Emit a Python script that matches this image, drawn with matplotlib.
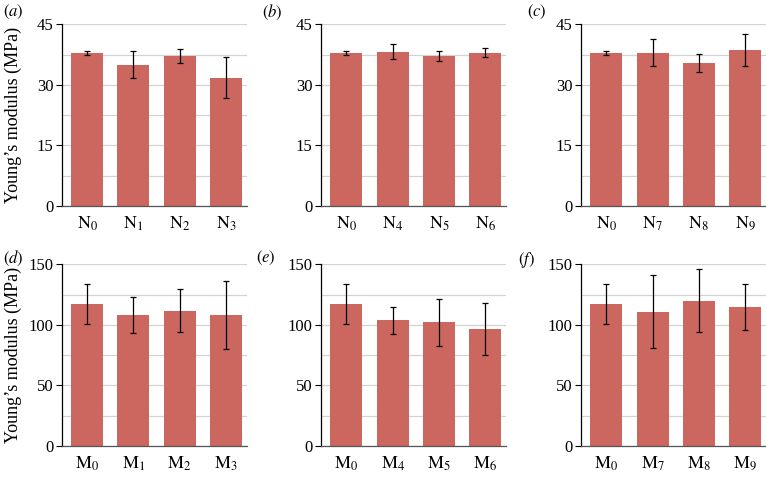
import matplotlib
matplotlib.use("Agg")
import matplotlib.pyplot as plt
from matplotlib.ticker import MultipleLocator

plt.rcParams['font.family'] = ['Liberation Serif', 'DejaVu Serif']
plt.rcParams['mathtext.fontset'] = 'stix'

# ---- data ----
labels_a = [r'$\mathrm{N}_0$', r'$\mathrm{N}_1$', r'$\mathrm{N}_2$', r'$\mathrm{N}_3$']
values_a = [37.9, 35.0, 37.1, 31.8]
errors_a = [0.4, 3.4, 1.8, 5.0]

labels_b = [r'$\mathrm{N}_0$', r'$\mathrm{N}_4$', r'$\mathrm{N}_5$', r'$\mathrm{N}_6$']
values_b = [37.9, 38.2, 37.2, 38.0]
errors_b = [0.4, 1.8, 1.2, 1.2]

labels_c = [r'$\mathrm{N}_0$', r'$\mathrm{N}_7$', r'$\mathrm{N}_8$', r'$\mathrm{N}_9$']
values_c = [37.9, 38.0, 35.5, 38.6]
errors_c = [0.4, 3.3, 2.2, 4.0]

labels_d = [r'$\mathrm{M}_0$', r'$\mathrm{M}_1$', r'$\mathrm{M}_2$', r'$\mathrm{M}_3$']
values_d = [117.5, 107.9, 111.8, 107.9]
errors_d = [16.5, 15.0, 18.0, 28.0]

labels_e = [r'$\mathrm{M}_0$', r'$\mathrm{M}_4$', r'$\mathrm{M}_5$', r'$\mathrm{M}_6$']
values_e = [117.5, 103.8, 102.1, 96.3]
errors_e = [16.5, 11.0, 19.5, 21.5]

labels_f = [r'$\mathrm{M}_0$', r'$\mathrm{M}_7$', r'$\mathrm{M}_8$', r'$\mathrm{M}_9$']
values_f = [117.5, 110.9, 120.0, 114.8]
errors_f = [16.5, 30.0, 26.3, 19.0]

panel_letters = ['a', 'b', 'c', 'd', 'e', 'f']
ylabel = 'Young\u2019s modulus (MPa)'

BAR = '#CC6760'

fig = plt.figure(figsize=(7.66, 4.79), dpi=100)
W, H = 766, 479

def add_ax(x0, ytop, w=185, h=181.7):
    return fig.add_axes([x0 / W, (H - ytop - h) / H, w / W, h / H])

lefts = [61.7, 321, 581]
tops = [24.3, 264.3]

panels = [
    (labels_a, values_a, errors_a, 45, 15),
    (labels_b, values_b, errors_b, 45, 15),
    (labels_c, values_c, errors_c, 45, 15),
    (labels_d, values_d, errors_d, 150, 50),
    (labels_e, values_e, errors_e, 150, 50),
    (labels_f, values_f, errors_f, 150, 50),
]

label_pos = [(3, 12), (262, 12), (527, 12), (3, 258), (256, 258), (518, 260)]

for i, (labs, vals, errs, ymax, step) in enumerate(panels):
    r, c = divmod(i, 3)
    ax = add_ax(lefts[c], tops[r])
    x = list(range(len(vals)))
    ax.bar(x, vals, width=0.69, color=BAR, zorder=2)
    ax.errorbar(x, vals, yerr=errs, fmt='none', ecolor='black', elinewidth=0.9,
                capsize=2.3, capthick=0.9, zorder=3)
    ax.set_xlim(-0.55, 3.45)
    ax.set_ylim(0, ymax)
    ax.yaxis.set_major_locator(MultipleLocator(step))
    ax.yaxis.set_minor_locator(MultipleLocator(step / 2))
    ax.grid(axis='y', which='both', color='#D3D3D3', linewidth=0.9, zorder=0)
    ax.set_axisbelow(True)
    ax.set_xticks(x)
    ax.set_xticklabels(labs, fontsize=13)
    ax.tick_params(axis='x', length=0, pad=6)
    ax.tick_params(axis='y', which='major', length=4, width=0.8, direction='out',
                   labelsize=12, pad=2)
    ax.tick_params(axis='y', which='minor', length=0)
    for s in ['top', 'right']:
        ax.spines[s].set_visible(False)
    ax.spines['left'].set_color('black')
    ax.spines['left'].set_linewidth(0.9)
    ax.spines['bottom'].set_color('#555555')
    ax.spines['bottom'].set_linewidth(0.9)
    if c == 0:
        ax.set_ylabel(ylabel, fontsize=13)
        ax.yaxis.set_label_coords((22 - lefts[c]) / 185, 0.5)
    lx, ly = label_pos[i]
    fig.text(lx / W, 1 - ly / H, r'$(\mathit{%s})$' % panel_letters[i],
             fontsize=12, va='center', ha='left')

fig.savefig('out.png', dpi=100)
